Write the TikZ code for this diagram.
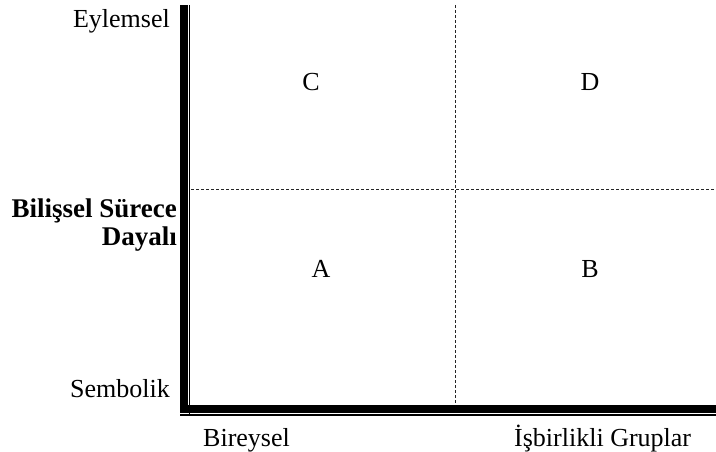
\documentclass[tikz,border=0pt]{standalone}
\usepackage{fontspec}
\setmainfont{Liberation Serif}
\begin{document}
\begin{tikzpicture}[x=1pt,y=-1pt,
  lbl/.style={inner sep=0pt,font=\fontsize{26}{28}\selectfont},
  blbl/.style={inner sep=0pt,font=\fontsize{27}{29}\selectfont\bfseries},
  grid/.style={line width=1pt,dash pattern=on 3pt off 2pt,black!85}]
\useasboundingbox (0,0) rectangle (716,452);
% dashed dividers
\coordinate (vt) at (455.5,5);
\coordinate (vb) at (455.5,404);
\coordinate (hl) at (191,189.5);
\coordinate (hr) at (716,189.5);
\draw[grid] (vt) -- (vb);
\draw[grid] (hl) -- (hr);
% axes (thick-thin double lines)
\fill (180,5) rectangle (187.5,413);
\fill (188.8,5) rectangle (190.3,416);
\fill (187.5,404.5) rectangle (716,412.5);
\fill (180,413.8) rectangle (716,415.5);
% labels
\node[lbl,anchor=base east] (ey) at (170,28) {Eylemsel};
\node[lbl,anchor=base east] (se) at (170,397) {Sembolik};
\node[blbl,anchor=base east] (bs) at (177,218) {Bilişsel Sürece};
\node[blbl,anchor=base east] (da) at (177,245) {Dayalı};
\node[lbl,anchor=base west] (bi) at (203,446) {Bireysel};
\node[lbl,anchor=base west] (ig) at (514,446) {İşbirlikli Gruplar};
\node[lbl,anchor=base] (c) at (311,91) {C};
\node[lbl,anchor=base] (d) at (590,91) {D};
\node[lbl,anchor=base] (a) at (321,277) {A};
\node[lbl,anchor=base] (b) at (590,277) {B};
\end{tikzpicture}
\end{document}
